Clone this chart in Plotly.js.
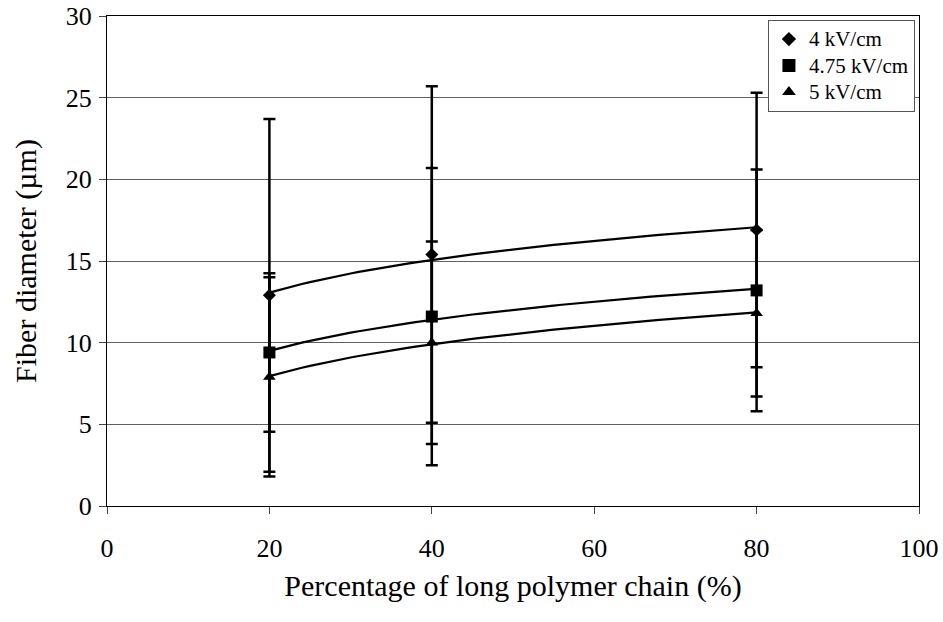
<!DOCTYPE html>
<html>
<head>
<meta charset="utf-8">
<script src="https://cdn.plot.ly/plotly-3.0.1.min.js"></script>
<style>
  html, body { margin: 0; padding: 0; background: #fff; }
  #chart { width: 943px; height: 622px; }
</style>
</head>
<body>
<div id="chart"></div>
<script>
// Percentage of long polymer chain (%)
const chainPct = [20, 40, 80];

// Series names (field strength)
const seriesNames = ['4 kV/cm', '4.75 kV/cm', '5 kV/cm'];

// Mean fiber diameter (µm) per series
const diam4 = [12.9, 15.4, 16.9];
const diam475 = [9.4, 11.6, 13.2];
const diam5 = [7.9, 10.0, 11.8];

// Standard deviation (µm) per series
const sd4 = [10.8, 10.3, 8.4];
const sd475 = [4.85, 9.1, 7.4];
const sd5 = [6.1, 6.2, 5.1];

const symbols = ['diamond', 'square', 'triangle-up'];
const sizes = [10, 12, 11];

// Logarithmic trendline y = a*ln(x) + b fitted by least squares
function logFit(xs, ys) {
  const lx = xs.map(Math.log);
  const n = xs.length;
  const mx = lx.reduce((s, v) => s + v, 0) / n;
  const my = ys.reduce((s, v) => s + v, 0) / n;
  let num = 0, den = 0;
  for (let i = 0; i < n; i++) {
    num += (lx[i] - mx) * (ys[i] - my);
    den += (lx[i] - mx) * (lx[i] - mx);
  }
  const a = num / den;
  const b = my - a * mx;
  const x0 = Math.min(...xs), x1 = Math.max(...xs);
  const tx = [], ty = [];
  for (let k = 0; k <= 60; k++) {
    const x = x0 + (x1 - x0) * k / 60;
    tx.push(x);
    ty.push(a * Math.log(x) + b);
  }
  return { x: tx, y: ty };
}

const means = [diam4, diam475, diam5];
const sds = [sd4, sd475, sd5];
const traces = [];

means.forEach((ys, i) => {
  const fit = logFit(chainPct, ys);
  traces.push({
    x: fit.x, y: fit.y, mode: 'lines', type: 'scatter',
    line: { color: '#000', width: 2.2 },
    showlegend: false, hoverinfo: 'skip'
  });
});

means.forEach((ys, i) => {
  traces.push({
    x: chainPct, y: ys, mode: 'markers', type: 'scatter',
    name: seriesNames[i],
    marker: { symbol: symbols[i], size: sizes[i], color: '#000' },
    error_y: { type: 'data', array: sds[i], visible: true,
               color: '#000', thickness: 2.5, width: 6 },
    showlegend: false
  });
});

// Legend entries (markers only); larger text inside a compact row height
means.forEach((ys, i) => {
  traces.push({
    x: [null], y: [null], mode: 'markers', type: 'scatter',
    name: '<span style="font-size:21px">' + seriesNames[i] + '</span>',
    marker: { symbol: symbols[i], size: sizes[i] + 1, color: '#000' },
    showlegend: true
  });
});

const serif = 'Liberation Serif, Times New Roman, serif';

const layout = {
  width: 943, height: 622,
  margin: { l: 107, r: 24, t: 16, b: 116 },
  paper_bgcolor: '#fff', plot_bgcolor: '#fff',
  font: { family: serif, color: '#000', size: 26 },
  showlegend: true,
  legend: {
    x: 0.995, y: 0.992, xanchor: 'right', yanchor: 'top',
    bgcolor: '#fff', bordercolor: '#555', borderwidth: 1,
    font: { family: serif, size: 18, color: '#000' },
    tracegroupgap: 0, itemwidth: 30
  },
  xaxis: {
    range: [0, 100], dtick: 20, tick0: 0,
    showgrid: false, zeroline: false,
    showline: true, linecolor: '#000', linewidth: 1, mirror: true,
    ticks: 'outside', ticklen: 7, tickcolor: '#444',
    ticklabelstandoff: 12,
    tickfont: { family: serif, size: 26, color: '#000' },
    title: { text: 'Percentage of long polymer chain (%)',
             font: { family: serif, size: 30, color: '#000' }, standoff: 12 }
  },
  yaxis: {
    range: [0, 30], dtick: 5, tick0: 0,
    showgrid: true, gridcolor: '#606060', gridwidth: 1, zeroline: false,
    showline: true, linecolor: '#000', linewidth: 1, mirror: true,
    ticks: 'outside', ticklen: 7, tickcolor: '#444',
    ticklabelstandoff: 2,
    tickfont: { family: serif, size: 26, color: '#000' },
    title: { text: 'Fiber diameter (µm)',
             font: { family: serif, size: 30, color: '#000' }, standoff: 20 }
  }
};

Plotly.newPlot('chart', traces, layout, { displayModeBar: false, staticPlot: true });
</script>
</body>
</html>
